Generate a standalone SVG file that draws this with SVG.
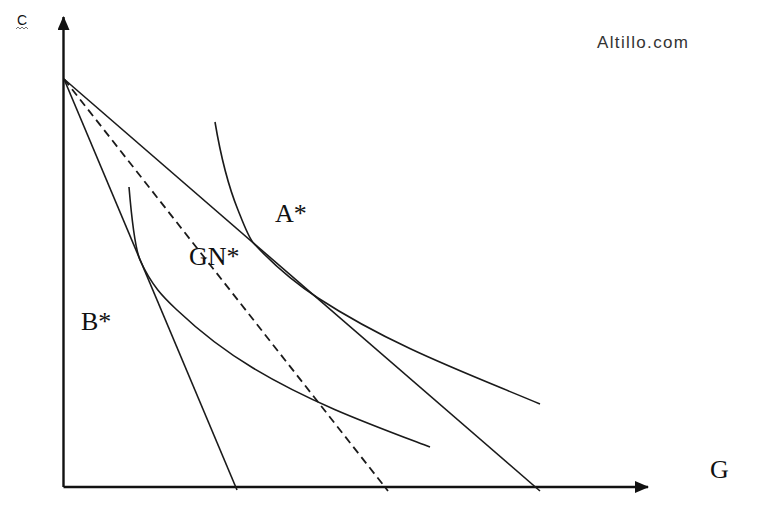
<svg xmlns="http://www.w3.org/2000/svg" width="780" height="511" viewBox="0 0 780 511">
<style>
.ax{stroke:#111;stroke-width:2.4;fill:none}
.ln{stroke:#1a1a1a;stroke-width:1.6;fill:none}
.ds{stroke:#1a1a1a;stroke-width:1.8;fill:none;stroke-dasharray:8 5}
.lbl{font-family:"Liberation Serif","Times New Roman",serif;font-size:26px;fill:#111}
</style>
<defs>
<marker id="ah" viewBox="0 0 14 12" refX="13" refY="6" markerWidth="14" markerHeight="12" markerUnits="userSpaceOnUse" orient="auto">
<path d="M0,0 L14,6 L0,12 Z" fill="#111"/>
</marker>
</defs>
<rect width="780" height="511" fill="#fff"/>
<g id="connectors">
<line class="ax" x1="63.5" y1="487" x2="63.5" y2="17" marker-end="url(#ah)"/>
<line class="ax" x1="63.5" y1="487" x2="648" y2="487" marker-end="url(#ah)"/>
<line class="ln" x1="64" y1="79" x2="237" y2="490"/>
<line class="ds" x1="64" y1="79" x2="388" y2="491"/>
<line class="ln" x1="64" y1="79" x2="540" y2="491"/>
</g>
<g id="curveA">
<path class="ln" d="M215,122 C222.7,168 230.3,191 238,210 C243,222.5 248,236.2 253,242.5 C274.7,266.3 296.3,283.9 318,298 C392,346.1 466,372.9 540,404"/>
</g>
<g id="curveB">
<path class="ln" d="M129,187 C132.7,231 136.3,251.2 140,260 C152.3,287.1 164.7,298.3 177,310 C202.3,334 227.7,352.8 253,368 C312,403.4 371,424.6 430,447"/>
</g>
<g id="axis-labels">
<text x="17" y="25" font-family="Liberation Sans, Arial, sans-serif" font-size="14" fill="#111">C</text>
<path d="M16,29 l2,-2 l2,2 l2,-2 l2,2 l2,-2 l2,2" stroke="#777" stroke-width="1" fill="none"/>
<text class="lbl" x="710" y="478">G</text>
</g>
<g id="watermark">
<text x="597" y="48" font-family="Liberation Sans, Arial, sans-serif" font-size="17" fill="#333" textLength="91">Altillo.com</text>
</g>
<g id="A-star"><text class="lbl" x="275" y="222">A*</text></g>
<g id="GN-star"><text class="lbl" x="189" y="265">GN*</text></g>
<g id="B-star"><text class="lbl" x="81" y="330">B*</text></g>
</svg>
